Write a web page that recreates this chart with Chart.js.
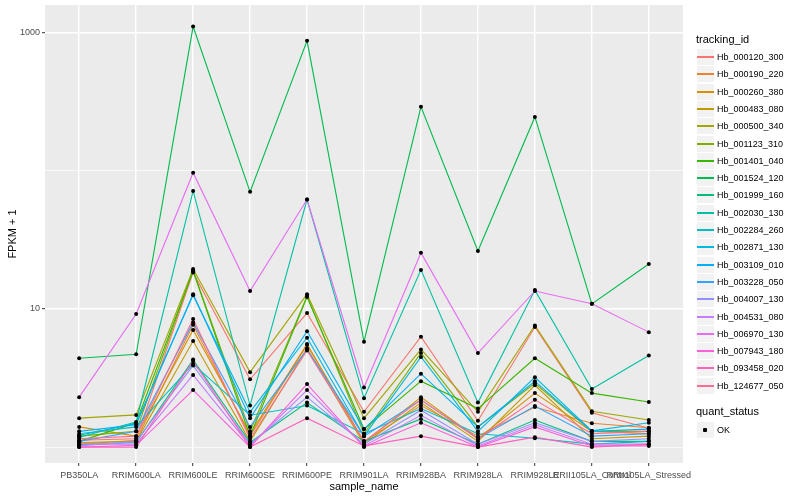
<!DOCTYPE html>
<html><head><meta charset="utf-8">
<script src="https://cdn.jsdelivr.net/npm/chart.js@4.4.0/dist/chart.umd.min.js"></script>
<style>
html,body{margin:0;padding:0;background:#fff;}
#wrap{position:relative;width:800px;height:500px;font-family:"Liberation Sans",Arial,Helvetica,sans-serif;}
#c{position:absolute;left:0;top:0;}
.ttl{position:absolute;font-size:11px;line-height:13px;color:#000;white-space:nowrap;}
.key{position:absolute;width:17px;height:16px;background:#F2F2F2;}
.keyline{position:absolute;left:0;width:17px;height:2px;top:7px;}
.lab{position:absolute;font-size:9px;line-height:12px;height:12px;color:#000;white-space:nowrap;}
.dot{position:absolute;width:4px;height:4px;background:#000;border-radius:1px;left:6px;top:6px;}
</style></head><body>
<div id="wrap"><canvas id="c" width="800" height="500"></canvas><div id="legend"></div></div>
<script>
const categories = ["PB350LA","RRIM600LA","RRIM600LE","RRIM600SE","RRIM600PE","RRIM901LA","RRIM928BA","RRIM928LA","RRIM928LE","RRII105LA_Control","RRII105LA_Stressed"];
const trackingIds = ["Hb_000120_300","Hb_000190_220","Hb_000260_380","Hb_000483_080","Hb_000500_340","Hb_001123_310","Hb_001401_040","Hb_001524_120","Hb_001999_160","Hb_002030_130","Hb_002284_260","Hb_002871_130","Hb_003109_010","Hb_003228_050","Hb_004007_130","Hb_004531_080","Hb_006970_130","Hb_007943_180","Hb_093458_020","Hb_124677_050"];
const seriesColors = ["#F8766D","#EA8331","#D89000","#C09B00","#A3A500","#7CAE00","#39B600","#00BB4E","#00BF7D","#00C1A3","#00BFC4","#00BAE0","#00B0F6","#35A2FF","#9590FF","#C77CFF","#E76BF3","#FA62DB","#FF62BC","#FF6C91"];
const yTickValues = [1, 10, 100, 1000];
const yTickLabels = ["", "10", "", "1000"];

const hb_000120_300 = [1.12, 1.15, 18.4, 3.1, 9.35, 1.80, 6.3, 1.55, 7.4, 1.77, 1.37];
const hb_000190_220 = [1.05, 1.12, 7.7, 1.2, 5.5, 1.1, 2.0, 1.2, 1.95, 1.49, 1.38];
const hb_000260_380 = [1.40, 1.2, 7.05, 1.25, 5.58, 1.08, 2.3, 1.15, 2.46, 1.3, 1.25];
const hb_000483_080 = [1.08, 1.1, 5.86, 1.1, 5.2, 1.05, 2.1, 1.1, 2.8, 1.15, 1.2];
const hb_000500_340 = [1.62, 1.71, 19.5, 3.49, 12.8, 1.62, 5.1, 1.8, 7.6, 1.82, 1.57];
const hb_001123_310 = [1.2, 1.3, 19.0, 1.3, 12.4, 1.25, 4.8, 1.4, 2.9, 1.3, 1.3];
const hb_001401_040 = [1.1, 1.5, 18.8, 1.2, 12.2, 1.35, 3.0, 1.9, 4.4, 2.46, 2.12];
const hb_001524_120 = [4.4, 4.7, 1110, 70.5, 875, 5.8, 291, 26.3, 246, 10.9, 21.2];
const hb_001999_160 = [1.04, 1.08, 4.3, 1.08, 2.1, 1.1, 1.6, 1.05, 1.57, 1.1, 1.1];
const hb_002030_130 = [1.18, 1.52, 71.6, 2.0, 62, 2.26, 19.2, 2.1, 13.7, 2.63, 4.6];
const hb_002284_260 = [1.25, 1.4, 4.0, 1.7, 2.0, 1.25, 1.9, 1.25, 1.16, 1.05, 1.1];
const hb_002871_130 = [1.22, 1.48, 12.6, 1.8, 6.2, 1.2, 4.5, 1.3, 3.2, 1.31, 1.5];
const hb_003109_010 = [1.3, 1.45, 12.8, 1.62, 6.9, 1.35, 3.4, 1.4, 3.0, 1.3, 1.35];
const hb_003228_050 = [1.1, 1.3, 8.0, 1.4, 5.1, 1.2, 2.2, 1.15, 1.98, 1.2, 1.25];
const hb_004007_130 = [1.02, 1.1, 3.9, 1.05, 2.3, 1.05, 1.85, 1.05, 1.5, 1.1, 1.15];
const hb_004531_080 = [1.05, 1.05, 3.33, 1.02, 2.59, 1.02, 1.7, 1.02, 1.45, 1.05, 1.05];
const hb_006970_130 = [2.3, 9.2, 97, 13.5, 62, 2.7, 25.5, 4.8, 13.5, 10.9, 6.8];
const hb_007943_180 = [1.0, 1.03, 2.59, 1.0, 2.86, 1.0, 1.5, 1.0, 1.4, 1.02, 1.02];
const hb_093458_020 = [1.0, 1.0, 4.2, 1.0, 1.62, 1.02, 1.2, 1.0, 1.18, 1.0, 1.05];
const hb_124677_050 = [1.15, 1.2, 8.46, 1.15, 5.0, 1.1, 2.2, 1.15, 2.2, 1.25, 1.3];

const seriesValues = [hb_000120_300, hb_000190_220, hb_000260_380, hb_000483_080, hb_000500_340, hb_001123_310, hb_001401_040, hb_001524_120, hb_001999_160, hb_002030_130, hb_002284_260, hb_002871_130, hb_003109_010, hb_003228_050, hb_004007_130, hb_004531_080, hb_006970_130, hb_007943_180, hb_093458_020, hb_124677_050];

const FONT = '"Liberation Sans", Arial, Helvetica, sans-serif';
const n = seriesValues.length;

const datasets = seriesValues.map((vals, i) => ({
  label: trackingIds[i],
  data: vals.map((v, j) => ({x: j, y: v})),
  borderColor: seriesColors[i],
  backgroundColor: seriesColors[i],
  borderWidth: 1.1,
  pointRadius: 0,
  pointHoverRadius: 0,
  tension: 0,
  fill: false,
  order: n - 1 - i
}));

const panelBg = {
  id: 'panelBg',
  beforeDraw(chart) {
    const a = chart.chartArea, ctx = chart.ctx;
    ctx.save();
    ctx.fillStyle = '#EBEBEB';
    ctx.fillRect(a.left, a.top, a.right - a.left, a.bottom - a.top);
    ctx.restore();
  }
};
const pointsOnTop = {
  id: 'pointsOnTop',
  afterDatasetsDraw(chart) {
    const ctx = chart.ctx;
    ctx.save();
    ctx.fillStyle = '#000';
    chart.data.datasets.forEach((ds, i) => {
      chart.getDatasetMeta(i).data.forEach(el => {
        ctx.beginPath();
        ctx.arc(el.x, el.y, 2, 0, Math.PI * 2);
        ctx.fill();
      });
    });
    ctx.restore();
  }
};

new Chart(document.getElementById('c'), {
  type: 'line',
  data: { datasets },
  plugins: [panelBg, pointsOnTop],
  options: {
    responsive: false,
    animation: false,
    devicePixelRatio: 1,
    layout: { padding: { top: 5, right: 117, left: 0, bottom: 0 } },
    plugins: { legend: { display: false }, tooltip: { enabled: false } },
    events: [],
    scales: {
      x: {
        type: 'linear',
        min: -0.6, max: 10.6,
        afterBuildTicks(scale) { scale.ticks = categories.map((c, i) => ({value: i})); },
        afterFit(scale) { scale.height = 37; scale.paddingLeft = 0; scale.paddingRight = 0; },
        ticks: {
          autoSkip: false, maxRotation: 0, minRotation: 0, padding: 4,
          color: '#4D4D4D', font: { family: FONT, size: 9 },
          callback: (v) => categories[v] !== undefined ? categories[v] : ''
        },
        grid: { color: '#FFFFFF', lineWidth: 1.4, tickColor: '#333333', tickLength: 3, tickWidth: 1 },
        border: { display: false },
        title: { display: true, text: 'sample_name', color: '#000', font: { family: FONT, size: 11 }, padding: { top: 0, bottom: 6 } }
      },
      y: {
        type: 'logarithmic',
        min: 0.767, max: 1590,
        afterBuildTicks(scale) { scale.ticks = yTickValues.map(v => ({value: v})); },
        afterFit(scale) { scale.width = 45; scale.paddingTop = 0; scale.paddingBottom = 0; },
        ticks: {
          padding: 2, color: '#4D4D4D', font: { family: FONT, size: 9 },
          callback: (v) => { const k = yTickValues.indexOf(v); return k >= 0 ? yTickLabels[k] : ''; }
        },
        grid: {
          color: '#FFFFFF',
          lineWidth: (c) => (c.tick && yTickLabels[yTickValues.indexOf(c.tick.value)] !== '') ? 1.4 : 0.7,
          tickColor: (c) => (c.tick && yTickLabels[yTickValues.indexOf(c.tick.value)] !== '') ? '#333333' : 'rgba(0,0,0,0)',
          tickLength: 3, tickWidth: 1
        },
        border: { display: false },
        title: { display: true, text: 'FPKM + 1', color: '#000', font: { family: FONT, size: 11 }, padding: { top: 6, bottom: 0 } }
      }
    }
  }
});

// legend (HTML, real text)
const lg = document.getElementById('legend');
function add(html) { lg.insertAdjacentHTML('beforeend', html); }
add('<div class="ttl" style="left:696px;top:33px;">tracking_id</div>');
trackingIds.forEach((id, i) => {
  const cy = Math.round(57 + i * 17.3);
  add('<div class="key" style="left:697px;top:' + (cy - 8) + 'px;"><div class="keyline" style="background:' + seriesColors[i] + ';"></div></div>');
  add('<div class="lab" style="left:717px;top:' + (cy - 6) + 'px;">' + id + '</div>');
});
add('<div class="ttl" style="left:696px;top:405px;">quant_status</div>');
add('<div class="key" style="left:697px;top:422px;"><div class="dot"></div></div>');
add('<div class="lab" style="left:717px;top:424px;">OK</div>');
</script>
</body></html>
